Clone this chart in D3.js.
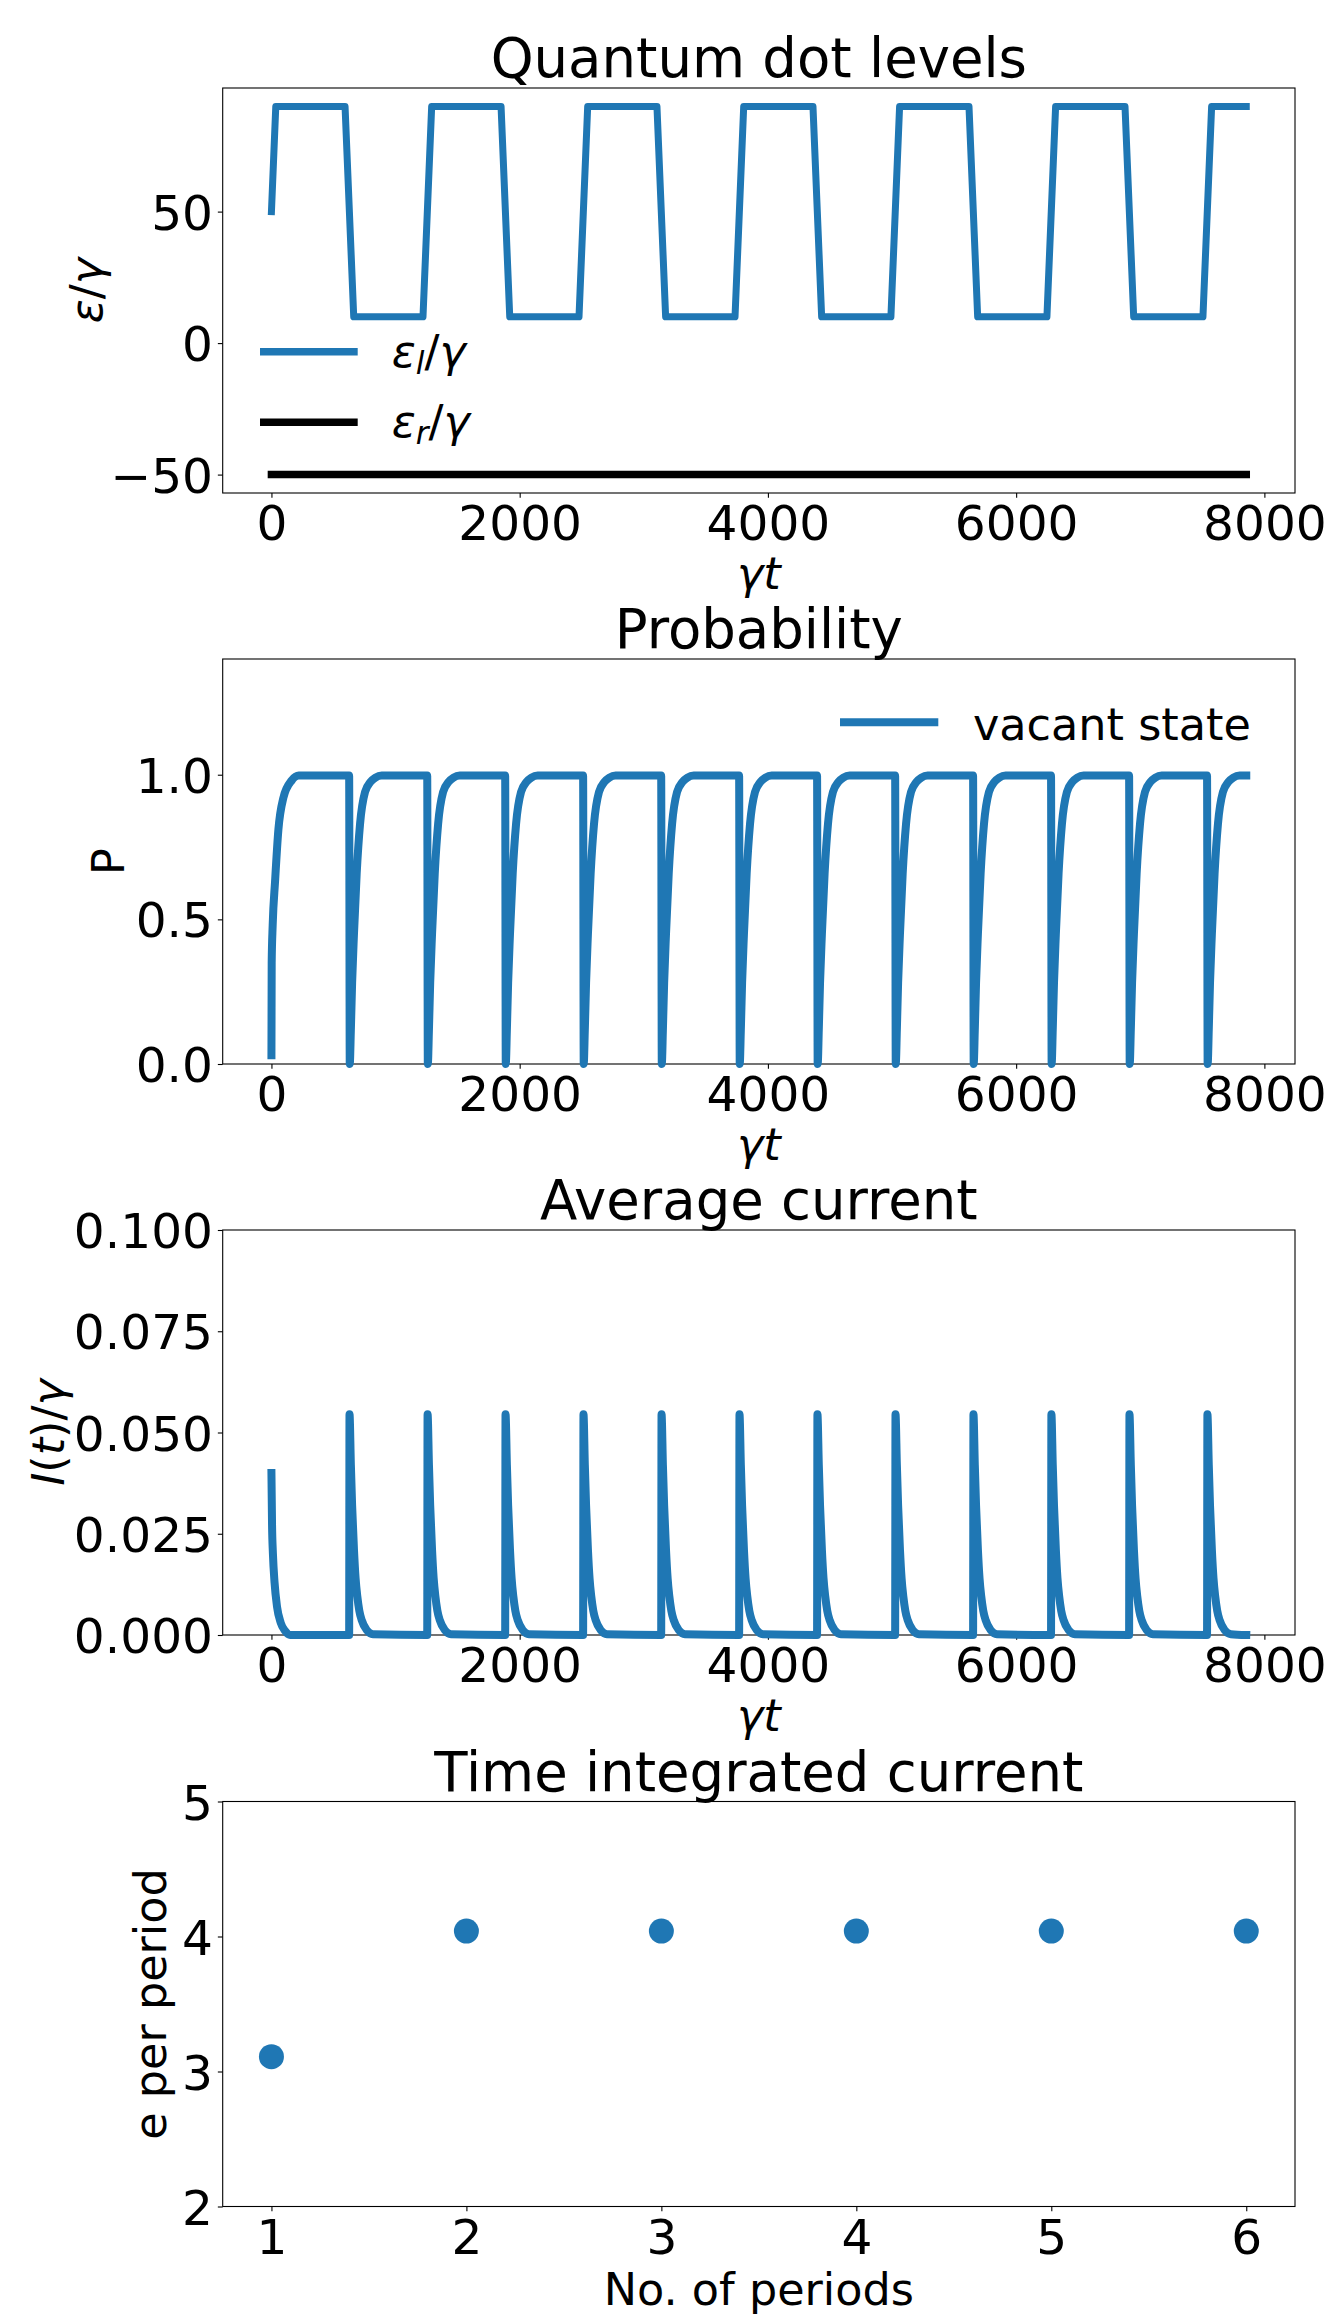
<!DOCTYPE html>
<html>
<head>
<meta charset="utf-8">
<script src="https://cdnjs.cloudflare.com/ajax/libs/d3/7.8.5/d3.min.js"></script>
<style>
	body { margin: 0; background: #fff; }
	svg text { font-family: 'DejaVu Sans', sans-serif; fill: #000; }
	.tick line { stroke: #000; stroke-width: 1.1; }
	.it { font-style: italic; }
</style>
</head>
<body>
<svg id="chart" width="1344" height="2315"></svg>
<script>
// values

const tEnd = 7854;

// corners of the left dot level (square wave)
const levelTimes = [0, 35, 593, 663, 1221, 1291, 1850, 1920, 2478, 2548, 3106, 3176, 3735, 3805, 4363, 4433, 4991, 5061, 5620, 5690, 6248, 6318, 6877, 6947, 7505, 7575, 7854];
const levelLeft = [50, 90, 90, 10, 10, 90, 90, 10, 10, 90, 90, 10, 10, 90, 90, 10, 10, 90, 90, 10, 10, 90, 90, 10, 10, 90, 90];
const levelRightTimes = [0, 7854];
const levelRight = [-50, -50];

// times where the left level switches
const switchTimes = [628, 1257, 1885, 2513, 3142, 3770, 4398, 5027, 5655, 6283, 6912, 7540];

// vacant state probability: first rise, then the dip seen after every switch (offset from switch)
const probStartT = [0, 2, 10, 29, 56, 96, 163, 220];
const probStartP = [0.03, 0.35, 0.48, 0.63, 0.81, 0.92, 0.98, 0.997];
const probDipT = [-2, 3, 12, 22, 37, 59, 86, 126, 170, 210, 260];
const probDipP = [0.997, 0.0, 0.12, 0.28, 0.45, 0.66, 0.83, 0.94, 0.975, 0.99, 0.997];

// average current: first decay, then the spike seen after every switch
const currStartT = [0, 5, 12, 25, 45, 75, 110, 150];
const currStartI = [0.040, 0.027, 0.020, 0.013, 0.007, 0.003, 0.001, 0.0];
const currPeakT = [-2, 1, 12, 22, 37, 50, 64, 80, 99, 140, 190];
const currPeakI = [0.0, 0.0545, 0.042, 0.032, 0.021, 0.014, 0.0095, 0.006, 0.0037, 0.0012, 0.0002];

// time integrated current
const periods = [1, 2, 3, 4, 5, 6];
const electronsPerPeriod = [3.11, 4.04, 4.04, 4.04, 4.04, 4.04];

// ticks
const timeTicks = [0, 2000, 4000, 6000, 8000];
const levelTicks = [-50, 0, 50];
const probTicks = [0, 0.5, 1.0];
const currTicks = [0, 0.025, 0.05, 0.075, 0.1];
const periodTicks = [1, 2, 3, 4, 5, 6];
const perPeriodTicks = [2, 3, 4, 5];

///////////////////////////////////////////////////////////////////

const blue = '#1f77b4';
const fs = 44.5, tickFs = 48.6, titleFs = 54.5;
const left = 222.7, right = 1295, panelH = 405;
const tops = [88, 659, 1230, 1801.5];

const svg = d3.select('#chart');
svg.append('rect').attr('width', 1344).attr('height', 2315).attr('fill', '#fff');

function zip(a, b){ return a.map((v, i) => [v, b[i]]); }

function repeatShape(startT, startV, shapeT, shapeV, endV){
	let pts = zip(startT, startV);
	switchTimes.forEach(s => {
		shapeT.forEach((o, i) => pts.push([s + o, shapeV[i]]));
	});
	pts.push([tEnd, endV]);
	return pts;
}

function panel(top, xDomain, yDomain, xTicks, yTicks, yFmt){
	let x = d3.scaleLinear().domain(xDomain).range([left, right]),
		y = d3.scaleLinear().domain(yDomain).range([top + panelH, top]);
	let g = svg.append('g');

	g.append('g')
		.attr('transform', 'translate(0,' + (top + panelH) + ')')
		.call(d3.axisBottom(x).tickValues(xTicks).tickFormat(d3.format('d')).tickSize(4.86).tickPadding(4.86).tickSizeOuter(0))
		.call(a => a.select('.domain').remove())
		.selectAll('text')
		.attr('font-size', tickFs)
		.attr('dy', '37.5px');

	g.append('g')
		.attr('transform', 'translate(' + left + ',0)')
		.call(d3.axisLeft(y).tickValues(yTicks).tickFormat(d3.format(yFmt)).tickSize(4.86).tickPadding(4.86).tickSizeOuter(0))
		.call(a => a.select('.domain').remove())
		.selectAll('text')
		.attr('font-size', tickFs)
		.attr('dy', '0.36em');

	g.append('rect')
		.attr('x', left).attr('y', top)
		.attr('width', right - left).attr('height', panelH)
		.attr('fill', 'none').attr('stroke', '#000').attr('stroke-width', 1.1);

	return {g: g, x: x, y: y, top: top};
}

function title(p, txt){
	p.g.append('text')
		.attr('x', (left + right) / 2).attr('y', p.top - 11)
		.attr('text-anchor', 'middle').attr('font-size', titleFs)
		.text(txt);
}

function drawLine(p, pts, color, w, curve){
	p.g.append('path')
		.datum(pts)
		.attr('fill', 'none')
		.attr('stroke', color)
		.attr('stroke-width', w)
		.attr('stroke-linecap', 'square')
		.attr('stroke-linejoin', 'round')
		.attr('d', d3.line().curve(curve || d3.curveLinear).x(d => p.x(d[0])).y(d => p.y(d[1])));
}

// text made of [string, italic, subscript, dy] pieces
function mathText(sel, parts){
	parts.forEach(pt => {
		let ts = sel.append('tspan').text(pt[0]);
		if(pt[1]) ts.attr('class', 'it');
		if(pt[2]) ts.attr('font-size', fs * 0.7).attr('dy', '0.22em');
		if(pt[3]) ts.attr('dy', pt[3]);
	});
	return sel;
}

function ylabel(p, xBase, parts){
	let cy = p.top + panelH / 2;
	let t = p.g.append('text')
		.attr('transform', 'translate(' + xBase + ',' + cy + ') rotate(-90)')
		.attr('text-anchor', 'middle').attr('font-size', fs);
	mathText(t, parts);
}

function xlabel(p, off, parts){
	let t = p.g.append('text')
		.attr('x', (left + right) / 2).attr('y', p.top + panelH + off)
		.attr('text-anchor', 'middle').attr('font-size', fs);
	mathText(t, parts);
}

const timeDomain = [-0.05 * tEnd, 1.05 * tEnd];
const gt = [['γ', true], ['t', true]];

// 1) Quantum dot levels
let p1 = panel(tops[0], timeDomain, [-57, 97], timeTicks, levelTicks, 'd');
title(p1, 'Quantum dot levels');
drawLine(p1, zip(levelTimes, levelLeft), blue, 7);
drawLine(p1, zip(levelRightTimes, levelRight), '#000', 7.5);
ylabel(p1, 102, [['ε', true], ['/', false], ['γ', true]]);
xlabel(p1, 96, gt);

let legend1 = [
	{color: blue, parts: [['ε', true], ['l', true, true], ['/', false, false, '-0.154em'], ['γ', true]]},
	{color: '#000', parts: [['ε', true], ['r', true, true], ['/', false, false, '-0.154em'], ['γ', true]]}
];
legend1.forEach((d, i) => {
	let cy = p1.top + 263.7 + i * 70.6;
	p1.g.append('line')
		.attr('x1', left + 37.3).attr('x2', left + 135)
		.attr('y1', cy).attr('y2', cy)
		.attr('stroke', d.color).attr('stroke-width', 7.5);
	let t = p1.g.append('text')
		.attr('x', left + 169).attr('y', cy + 15)
		.attr('font-size', fs);
	mathText(t, d.parts);
});

// 2) Probability
let p2 = panel(tops[1], timeDomain, [0, 1.4], timeTicks, probTicks, '.1f');
title(p2, 'Probability');
drawLine(p2, repeatShape(probStartT, probStartP, probDipT, probDipP, 0.997), blue, 8, d3.curveMonotoneX);
ylabel(p2, 124, [['P', false]]);
xlabel(p2, 96, gt);

p2.g.append('line')
	.attr('x1', right - 455).attr('x2', right - 356.7)
	.attr('y1', p2.top + 63.3).attr('y2', p2.top + 63.3)
	.attr('stroke', blue).attr('stroke-width', 8);
p2.g.append('text')
	.attr('x', right - 322).attr('y', p2.top + 81)
	.attr('font-size', fs)
	.text('vacant state');

// 3) Average current
let p3 = panel(tops[2], timeDomain, [0, 0.1], timeTicks, currTicks, '.3f');
title(p3, 'Average current');
drawLine(p3, repeatShape(currStartT, currStartI, currPeakT, currPeakI, 0), blue, 8, d3.curveMonotoneX);
ylabel(p3, 64, [['I', true], ['(', false], ['t', true], [')', false], ['/', false], ['γ', true]]);
xlabel(p3, 96, gt);

// 4) Time integrated current
let p4 = panel(tops[3], [0.75, 6.25], [2, 5], periodTicks, perPeriodTicks, 'd');
title(p4, 'Time integrated current');
p4.g.selectAll('.dot')
	.data(zip(periods, electronsPerPeriod))
	.enter().append('circle')
	.attr('class', 'dot')
	.attr('cx', d => p4.x(d[0]))
	.attr('cy', d => p4.y(d[1]))
	.attr('r', 12.5)
	.attr('fill', blue);
ylabel(p4, 166, [['e per period', false]]);
xlabel(p4, 98, [['No. of periods', false]]);
</script>
</body>
</html>
